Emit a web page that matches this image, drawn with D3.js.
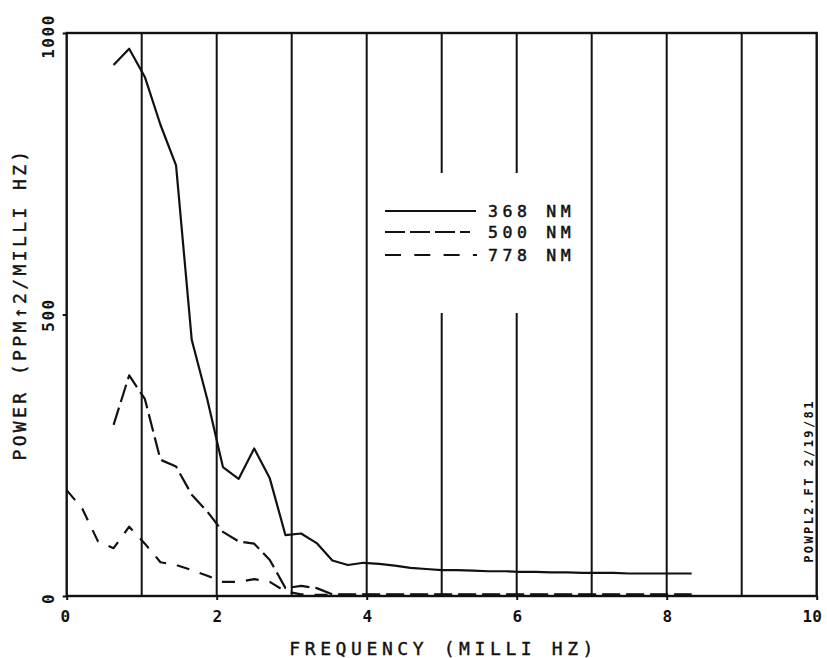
<!DOCTYPE html>
<html><head><meta charset="utf-8">
<script src="https://cdn.jsdelivr.net/npm/d3@7/dist/d3.min.js"></script>
<style>body{margin:0;background:#fff}svg{display:block}text{font-family:"DejaVu Sans Mono",monospace;fill:#111}</style>
</head><body>
<script>
// ---- data ----
const freqA = [0.625,0.833,1.042,1.25,1.458,1.667,1.875,2.083,2.292,2.5,2.708,2.917,3.125,3.333,3.542,3.75,3.958,4.167,4.375,4.583,4.792,5.0,5.208,5.417,5.625,5.833,6.042,6.25,6.458,6.667,6.875,7.083,7.292,7.5,7.708,7.917,8.125,8.333];
const freqB = [0,0.208,0.417].concat(freqA);
const p368 = [943,972,922,837,765,455,349,229,208,262,209,108,111,94,63,55,59,57,54,50,48,46,46,45,44,44,43,43,42,42,41,41,41,40,40,40,40,40];
const p500 = [304,392,350,242,230,180,150,114,97,93,64,14,18,14,3,3,3,3,3,3,3,3,3,3,3,3,3,3,3,3,3,3,3,3,3,3,3,3];
const p778 = [188,155,97,85,123,93,60,55,46,36,25,25,30,25,8,3,2,2,2,2,2,2,2,2,2,2,2,2,2,2,2,2,2,2,2,2,2,2,2,2,2];
const legendLabels = ["368 NM","500 NM","778 NM"];
const xTickValues = [0,2,4,6,8,10];
const yTickValues = [0,500,1000];
const gridValues = [1,2,3,4,5,6,7,8,9];
const xTitle = "FREQUENCY (MILLI HZ)";
const yTitle = "POWER (PPM\u21912/MILLI HZ)";
const sideNote = "POWPL2.FT 2/19/81";

const W = 827, H = 658;
const x = d3.scaleLinear().domain([0,10]).range([66.7,816.7]);
const y = d3.scaleLinear().domain([0,1000]).range([596,33]);

const svg = d3.select("body").append("svg").attr("width",W).attr("height",H);

// grid lines
svg.append("g").selectAll("line").data(gridValues).join("line")
  .attr("x1",d=>x(d)).attr("x2",d=>x(d)).attr("y1",y(1000)).attr("y2",y(0))
  .attr("stroke","#111").attr("stroke-width",2);

// frame
svg.append("rect").attr("x",x(0)).attr("y",y(1000)).attr("width",x(10)-x(0)).attr("height",y(0)-y(1000))
  .attr("fill","none").attr("stroke","#111").attr("stroke-width",2.4);

// axes ticks
const xAxis = d3.axisBottom(x).tickValues(xTickValues).tickSize(4).tickFormat(d=>d);
const gx = svg.append("g").attr("transform",`translate(0,${y(0)})`).call(xAxis);
gx.select(".domain").remove();
gx.selectAll(".tick line").attr("stroke","#111").attr("stroke-width",2);
gx.selectAll(".tick text").attr("y",15).attr("font-size",16).attr("font-weight","bold")
  .attr("dx",d=>d===10?-5:(d===0?-2:0))
  .attr("fill","#111").style("font-family","DejaVu Sans Mono");

const yAxis = d3.axisLeft(y).tickValues(yTickValues).tickSize(4).tickFormat(d=>d);
const gy = svg.append("g").attr("transform",`translate(${x(0)},0)`).call(yAxis);
gy.select(".domain").remove();
gy.selectAll(".tick line").attr("stroke","#111").attr("stroke-width",2);
gy.selectAll(".tick text").attr("x",0).attr("dy",0)
  .attr("transform",d=>`translate(-13,${d===0?2:(d===1000?3:0)}) rotate(-90)`)
  .attr("text-anchor","middle").attr("font-size",16).attr("font-weight","bold")
  .attr("letter-spacing",1.5).attr("fill","#111").style("font-family","DejaVu Sans Mono");

// legend box (white background)
svg.append("rect").attr("x",380).attr("y",173).attr("width",205).attr("height",140).attr("fill","#fff");

// series
const line = d3.line().x(d=>x(d[0])).y(d=>y(d[1]));
const series = [
  {f:freqA, v:p368, dash:null},
  {f:freqA, v:p500, dash:"18,6"},
  {f:freqB, v:p778, dash:"13,11"}
];
svg.append("g").selectAll("path").data(series).join("path")
  .attr("d",s=>line(s.f.map((f,i)=>[f,s.v[i]])))
  .attr("fill","none").attr("stroke","#111").attr("stroke-width",2.2)
  .attr("stroke-linejoin","round")
  .attr("stroke-dasharray",s=>s.dash);

// legend
const legY = [211, 232, 255];
const legX2 = [476, 470, 477];
const legDash = [null,"20,5","16,13.3"];
const leg = svg.append("g");
legendLabels.forEach((lab,i)=>{
  leg.append("line").attr("x1",385).attr("x2",legX2[i]).attr("y1",legY[i]).attr("y2",legY[i])
    .attr("stroke","#111").attr("stroke-width",2).attr("stroke-dasharray",legDash[i]);
  leg.append("text").attr("x",488).attr("y",legY[i]+6).attr("font-size",16.5)
    .attr("letter-spacing",4.6).attr("stroke","#111").attr("stroke-width",0.5).text(lab);
});

// titles
svg.append("text").attr("x",x(5)+2).attr("y",655).attr("text-anchor","middle")
  .attr("font-size",18).attr("letter-spacing",4.6).attr("stroke","#111").attr("stroke-width",0.4).text(xTitle);
svg.append("text").attr("transform","translate(26,304) rotate(-90)").attr("text-anchor","middle")
  .attr("font-size",18).attr("letter-spacing",3.4).attr("stroke","#111").attr("stroke-width",0.4).text(yTitle);
svg.append("text").attr("transform","translate(813,481) rotate(-90)").attr("text-anchor","middle")
  .attr("font-size",12).attr("font-weight","bold").attr("letter-spacing",2.4).text(sideNote);
</script>
</body></html>
